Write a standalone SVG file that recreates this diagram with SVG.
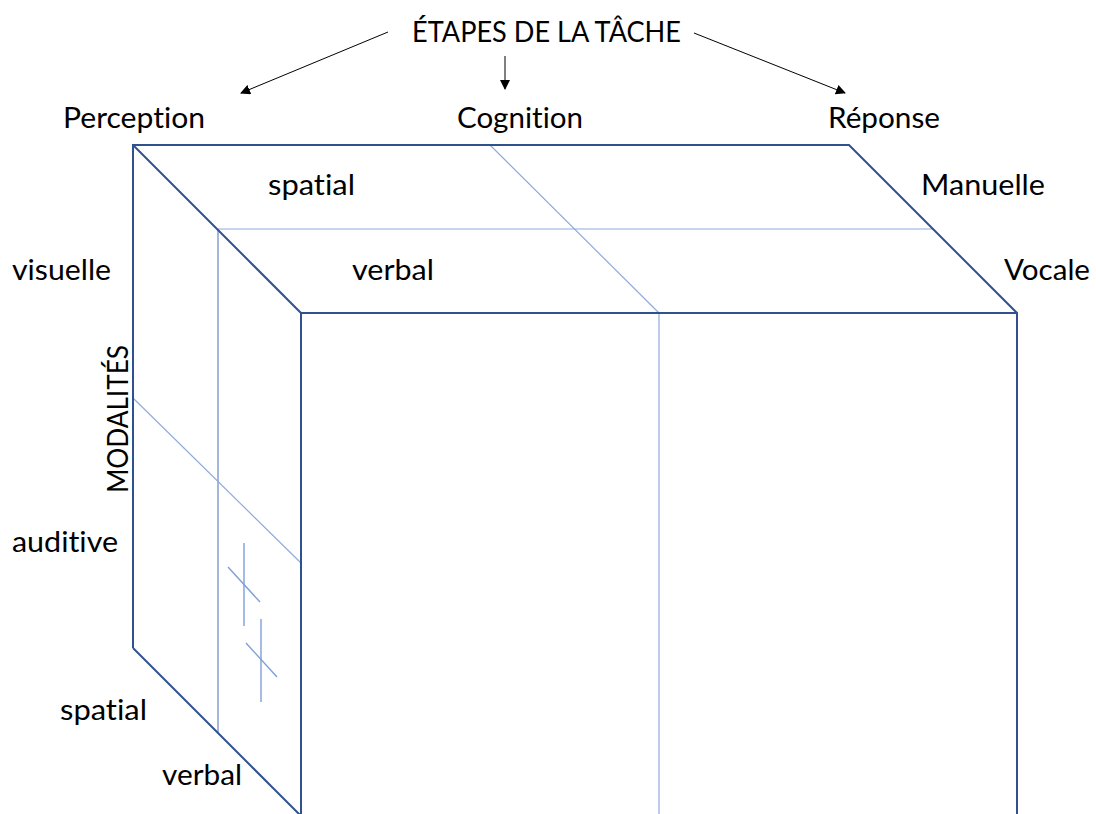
<svg xmlns="http://www.w3.org/2000/svg" width="1096" height="814" viewBox="0 0 1096 814">
<style>
text{font-family:"Lato","Liberation Sans",sans-serif;font-size:29px;fill:#000;font-variant-ligatures:none;font-feature-settings:"liga" 0,"clig" 0}
.edge{stroke:#2F528F;stroke-width:2;fill:none}
.thin{stroke:#8FAADC;stroke-width:1.2;fill:none}
.mark{stroke:#7F9FD8;stroke-width:1.4;fill:none}
.mid{stroke:#4A6FB8;stroke-width:1;fill:none}
.arr{stroke:#000;stroke-width:1;fill:none;marker-end:url(#ah)}
</style>
<defs>
<marker id="ah" viewBox="0 0 10 10" refX="9" refY="5" markerWidth="10" markerHeight="10" markerUnits="userSpaceOnUse" orient="auto">
<path d="M0,0 L10,5 L0,10 z" fill="#000"/>
</marker>
</defs>
<rect width="1096" height="814" fill="#fff"/>
<g id="connectors">
<line class="arr" x1="388" y1="32" x2="241" y2="93"/>
<line class="arr" x1="505" y1="56" x2="505" y2="89"/>
<line class="arr" x1="694" y1="33" x2="845" y2="93"/>
</g>
<g id="cube">
<line class="thin" x1="490" y1="145" x2="659" y2="313"/>
<line class="thin" x1="218" y1="229" x2="932" y2="229"/>
<line class="thin" x1="659" y1="313" x2="659" y2="814"/>
<line class="mid" x1="218" y1="229" x2="218" y2="733"/>
<line class="thin" x1="133" y1="398" x2="301" y2="563"/>
<line class="mark" x1="244" y1="543" x2="244" y2="626"/>
<line class="mark" x1="228" y1="567" x2="260" y2="602"/>
<line class="mark" x1="261" y1="619" x2="261" y2="702"/>
<line class="mark" x1="246" y1="643" x2="277" y2="677"/>
<polyline class="edge" points="133,648 133,145 849,145 1017,313 1017,814"/>
<line class="edge" x1="133" y1="145" x2="301" y2="313"/>
<polyline class="edge" points="301,814 301,313 1017,313"/>
<line class="edge" x1="133" y1="648" x2="301" y2="816"/>
</g>
<g id="labels">
<text x="412" y="42" textLength="269" lengthAdjust="spacingAndGlyphs">ÉTAPES DE LA TÂCHE</text>
<text x="63" y="128" textLength="142" lengthAdjust="spacingAndGlyphs">Perception</text>
<text x="457" y="128" textLength="126" lengthAdjust="spacingAndGlyphs">Cognition</text>
<text x="828" y="128" textLength="112" lengthAdjust="spacingAndGlyphs">Réponse</text>
<text x="268" y="195" textLength="87" lengthAdjust="spacingAndGlyphs">spatial</text>
<text x="921" y="195" textLength="124" lengthAdjust="spacingAndGlyphs">Manuelle</text>
<text x="12" y="280" textLength="99" lengthAdjust="spacingAndGlyphs">visuelle</text>
<text x="352" y="280" textLength="82" lengthAdjust="spacingAndGlyphs">verbal</text>
<text x="1004" y="280" textLength="86" lengthAdjust="spacingAndGlyphs">Vocale</text>
<text transform="translate(128,493) rotate(-90)" x="0" y="0" textLength="148" lengthAdjust="spacingAndGlyphs">MODALITÉS</text>
<text x="12" y="552" textLength="106" lengthAdjust="spacingAndGlyphs">auditive</text>
<text x="60" y="720" textLength="87" lengthAdjust="spacingAndGlyphs">spatial</text>
<text x="162" y="785" textLength="80" lengthAdjust="spacingAndGlyphs">verbal</text>
</g>
</svg>
